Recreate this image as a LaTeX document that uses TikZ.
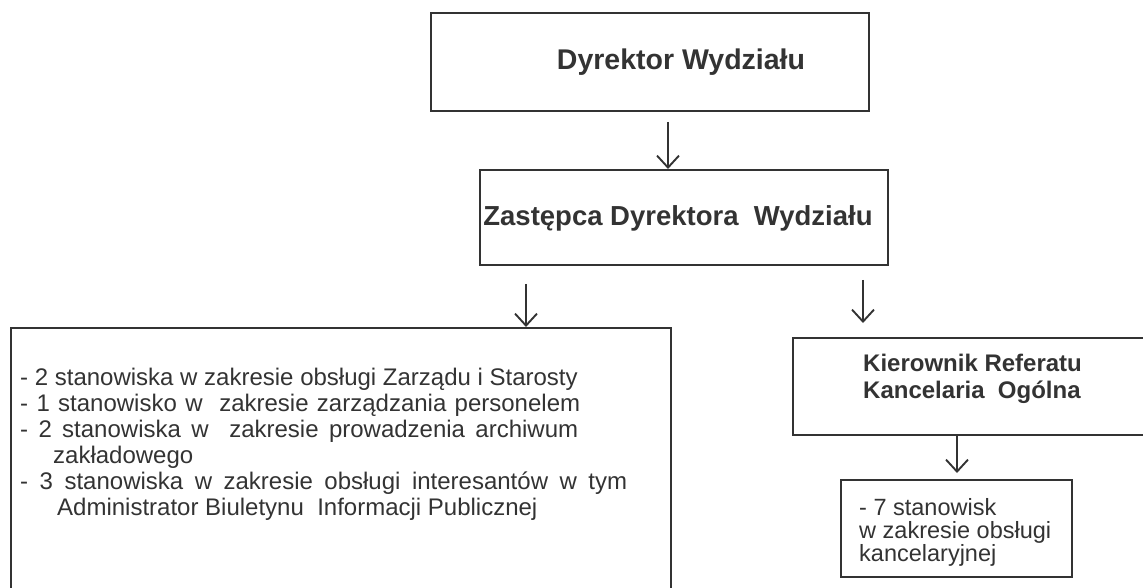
\documentclass[tikz,border=0pt]{standalone}
\usepackage{fontspec}
\setmainfont{Liberation Sans}
\usetikzlibrary{arrows.meta}
\definecolor{ink}{HTML}{333333}
\begin{document}
\begin{tikzpicture}[x=1pt,y=-1pt,
  box/.style={draw=ink, line width=1.8pt, inner sep=0pt, anchor=north west},
  arr/.style={draw=ink, line width=1.9pt, -{Straight Barb[length=12pt,width=22pt,line width=1.9pt]}},
  ttl/.style={text=ink, font=\fontsize{28}{30}\selectfont\bfseries, inner sep=0pt},
  ln/.style={text=ink, font=\fontsize{24}{26}\selectfont, inner sep=0pt, anchor=base west},
  bln/.style={text=ink, font=\fontsize{24}{26}\selectfont\bfseries, inner sep=0pt, anchor=base west}]
\useasboundingbox (0,0) rectangle (1143,587);
\clip (0,0) rectangle (1143,587);
% boxes
\node[box, minimum width=438pt, minimum height=98pt] (dyr) at (430,12) {};
\node[box, minimum width=408pt, minimum height=95pt] (zast) at (479,169) {};
\node[box, minimum width=660pt, minimum height=300pt] (big) at (10,327) {};
\node[box, minimum width=380pt, minimum height=97pt] (kier) at (792,337) {};
\node[box, minimum width=231pt, minimum height=97pt] (small) at (840,479) {};
% titles
\node[ttl, font=\fontsize{28.5}{30}\selectfont\bfseries] (dyrt) at (681,62) {Dyrektor Wydziału};
\node[ttl, font=\fontsize{27.5}{30}\selectfont\bfseries] (zastt) at (678,218) {Zastępca Dyrektora\ \ Wydziału};
% big box text
\node[ln] (l1) at (20,385) {- 2 stanowiska w zakresie obsługi Zarządu i Starosty};
\node[ln] (l2) at (20,411) {\makebox[560pt][s]{- 1 stanowisko w\ \ zakresie zarządzania personelem}};
\node[ln] (l3) at (20,437) {\makebox[558pt][s]{- 2 stanowiska w\ \ zakresie prowadzenia archiwum}};
\node[ln] (l4) at (53,463) {zakładowego};
\node[ln] (l5) at (20,489) {\makebox[607pt][s]{- 3 stanowiska w zakresie obsługi interesantów w tym}};
\node[ln] (l6) at (57,515) {Administrator Biuletynu\ \ Informacji Publicznej};
% kierownik text
\node[bln] (k1) at (863,371) {Kierownik Referatu};
\node[bln] (k2) at (863,398) {Kancelaria\ \ Ogólna};
% small box text
\node[ln, font=\fontsize{23.5}{25}\selectfont] (s1) at (859,515) {- 7 stanowisk};
\node[ln, font=\fontsize{23.5}{25}\selectfont] (s2) at (859,538) {w zakresie obsługi};
\node[ln, font=\fontsize{23.5}{25}\selectfont] (s3) at (859,561) {kancelaryjnej};
% arrow x positions
\coordinate (xa) at (668,0);
\coordinate (xb) at (526,0);
\coordinate (xc) at (863,0);
\coordinate (xd) at (957,0);
% arrows
\draw[arr, shorten <=10pt] (dyr.south -| xa) -- (zast.north -| xa);
\draw[arr, shorten <=18pt] (zast.south -| xb) -- (big.north -| xb);
\draw[arr, shorten <=14pt, shorten >=14pt] (zast.south -| xc) -- (kier.north -| xc);
\draw[arr, shorten >=6pt] (kier.south -| xd) -- (small.north -| xd);
\end{tikzpicture}
\end{document}
